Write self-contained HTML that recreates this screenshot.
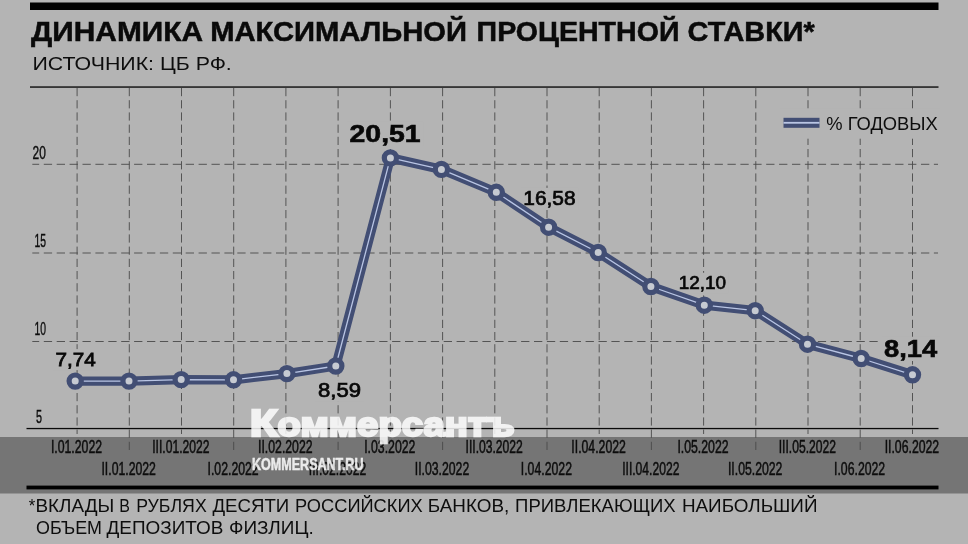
<!DOCTYPE html>
<html lang="ru"><head><meta charset="utf-8"><title>Динамика максимальной процентной ставки</title>
<style>html,body{margin:0;padding:0;background:#b4b4b4;}body{width:968px;height:544px;overflow:hidden;}svg{display:block;will-change:transform;}text{font-family:"Liberation Sans",sans-serif;}</style></head><body>
<svg width="968" height="544" viewBox="0 0 968 544">
<rect x="0" y="0" width="968" height="544" fill="#b4b4b4"/>
<rect x="0" y="437" width="968" height="56.5" fill="#757575"/>
<rect x="30" y="2.5" width="908.5" height="7.5" fill="#000"/>
<text y="41.3" font-size="27.5" font-weight="700" fill="#0a0a0a" stroke="#0a0a0a" stroke-width="0.5"><tspan x="31.1" textLength="171.9" lengthAdjust="spacingAndGlyphs">ДИНАМИКА</tspan> <tspan x="210.2" textLength="256.8" lengthAdjust="spacingAndGlyphs">МАКСИМАЛЬНОЙ</tspan> <tspan x="476.6" textLength="202.9" lengthAdjust="spacingAndGlyphs">ПРОЦЕНТНОЙ</tspan> <tspan x="687.6" textLength="127.1" lengthAdjust="spacingAndGlyphs">СТАВКИ*</tspan></text>
<text x="32.5" y="69.9" font-size="19" fill="#0d0d0d" textLength="199.3" lengthAdjust="spacingAndGlyphs">ИСТОЧНИК: ЦБ РФ.</text>
<rect x="30" y="86.4" width="908.5" height="1.3" fill="#000"/>
<line x1="77.1" y1="88" x2="77.1" y2="434" stroke="#4a4a4a" stroke-width="0.9" stroke-dasharray="8.2 4"/>
<line x1="129.3" y1="88" x2="129.3" y2="453" stroke="#4a4a4a" stroke-width="0.9" stroke-dasharray="8.2 4"/>
<line x1="181.5" y1="88" x2="181.5" y2="434" stroke="#4a4a4a" stroke-width="0.9" stroke-dasharray="8.2 4"/>
<line x1="233.7" y1="88" x2="233.7" y2="453" stroke="#4a4a4a" stroke-width="0.9" stroke-dasharray="8.2 4"/>
<line x1="285.9" y1="88" x2="285.9" y2="434" stroke="#4a4a4a" stroke-width="0.9" stroke-dasharray="8.2 4"/>
<line x1="338.1" y1="88" x2="338.1" y2="453" stroke="#4a4a4a" stroke-width="0.9" stroke-dasharray="8.2 4"/>
<line x1="390.4" y1="88" x2="390.4" y2="434" stroke="#4a4a4a" stroke-width="0.9" stroke-dasharray="8.2 4"/>
<line x1="442.6" y1="88" x2="442.6" y2="453" stroke="#4a4a4a" stroke-width="0.9" stroke-dasharray="8.2 4"/>
<line x1="494.8" y1="88" x2="494.8" y2="434" stroke="#4a4a4a" stroke-width="0.9" stroke-dasharray="8.2 4"/>
<line x1="547.0" y1="88" x2="547.0" y2="453" stroke="#4a4a4a" stroke-width="0.9" stroke-dasharray="8.2 4"/>
<line x1="599.2" y1="88" x2="599.2" y2="434" stroke="#4a4a4a" stroke-width="0.9" stroke-dasharray="8.2 4"/>
<line x1="651.4" y1="88" x2="651.4" y2="453" stroke="#4a4a4a" stroke-width="0.9" stroke-dasharray="8.2 4"/>
<line x1="703.6" y1="88" x2="703.6" y2="434" stroke="#4a4a4a" stroke-width="0.9" stroke-dasharray="8.2 4"/>
<line x1="755.8" y1="88" x2="755.8" y2="453" stroke="#4a4a4a" stroke-width="0.9" stroke-dasharray="8.2 4"/>
<line x1="808.0" y1="88" x2="808.0" y2="434" stroke="#4a4a4a" stroke-width="0.9" stroke-dasharray="8.2 4"/>
<line x1="860.2" y1="88" x2="860.2" y2="453" stroke="#4a4a4a" stroke-width="0.9" stroke-dasharray="8.2 4"/>
<line x1="912.5" y1="88" x2="912.5" y2="434" stroke="#4a4a4a" stroke-width="0.9" stroke-dasharray="8.2 4"/>
<line x1="32.3" y1="164.30" x2="938" y2="164.30" stroke="#4a4a4a" stroke-width="0.9" stroke-dasharray="8.3 4.6" stroke-dashoffset="1.4"/>
<line x1="32.3" y1="253.00" x2="938" y2="253.00" stroke="#4a4a4a" stroke-width="0.9" stroke-dasharray="8.3 4.6" stroke-dashoffset="1.4"/>
<line x1="32.3" y1="341.50" x2="938" y2="341.50" stroke="#4a4a4a" stroke-width="0.9" stroke-dasharray="8.3 4.6" stroke-dashoffset="1.4"/>
<text x="32.5" y="159" font-size="17.8" fill="#0d0d0d" stroke="#0d0d0d" stroke-width="0.4" textLength="13.3" lengthAdjust="spacingAndGlyphs">20</text>
<text x="34.5" y="247.3" font-size="17.8" fill="#0d0d0d" stroke="#0d0d0d" stroke-width="0.4" textLength="11.5" lengthAdjust="spacingAndGlyphs">15</text>
<text x="34.5" y="335" font-size="17.8" fill="#0d0d0d" stroke="#0d0d0d" stroke-width="0.4" textLength="11.5" lengthAdjust="spacingAndGlyphs">10</text>
<text x="36" y="423" font-size="17.8" fill="#0d0d0d" stroke="#0d0d0d" stroke-width="0.4" textLength="6" lengthAdjust="spacingAndGlyphs">5</text>
<rect x="26.5" y="427.9" width="912" height="1.3" fill="#0a0a0a"/>
<rect x="26.5" y="485.6" width="912" height="3.8" fill="#000"/>
<text x="76.5" y="452.8" font-size="17.5" fill="#0d0d0d" stroke="#0d0d0d" stroke-width="0.5" text-anchor="middle" textLength="51.2" lengthAdjust="spacingAndGlyphs">I.01.2022</text>
<text x="128.7" y="475.4" font-size="17.5" fill="#0d0d0d" stroke="#0d0d0d" stroke-width="0.5" text-anchor="middle" textLength="54.5" lengthAdjust="spacingAndGlyphs">II.01.2022</text>
<text x="180.9" y="452.8" font-size="17.5" fill="#0d0d0d" stroke="#0d0d0d" stroke-width="0.5" text-anchor="middle" textLength="57.3" lengthAdjust="spacingAndGlyphs">III.01.2022</text>
<text x="233.1" y="475.4" font-size="17.5" fill="#0d0d0d" stroke="#0d0d0d" stroke-width="0.5" text-anchor="middle" textLength="51.2" lengthAdjust="spacingAndGlyphs">I.02.2022</text>
<text x="285.3" y="452.8" font-size="17.5" fill="#0d0d0d" stroke="#0d0d0d" stroke-width="0.5" text-anchor="middle" textLength="54.5" lengthAdjust="spacingAndGlyphs">II.02.2022</text>
<text x="337.5" y="475.4" font-size="17.5" fill="#0d0d0d" stroke="#0d0d0d" stroke-width="0.5" text-anchor="middle" textLength="57.3" lengthAdjust="spacingAndGlyphs">III.02.2022</text>
<text x="389.8" y="452.8" font-size="17.5" fill="#0d0d0d" stroke="#0d0d0d" stroke-width="0.5" text-anchor="middle" textLength="51.2" lengthAdjust="spacingAndGlyphs">I.03.2022</text>
<text x="442.0" y="475.4" font-size="17.5" fill="#0d0d0d" stroke="#0d0d0d" stroke-width="0.5" text-anchor="middle" textLength="54.5" lengthAdjust="spacingAndGlyphs">II.03.2022</text>
<text x="494.2" y="452.8" font-size="17.5" fill="#0d0d0d" stroke="#0d0d0d" stroke-width="0.5" text-anchor="middle" textLength="57.3" lengthAdjust="spacingAndGlyphs">III.03.2022</text>
<text x="546.4" y="475.4" font-size="17.5" fill="#0d0d0d" stroke="#0d0d0d" stroke-width="0.5" text-anchor="middle" textLength="51.2" lengthAdjust="spacingAndGlyphs">I.04.2022</text>
<text x="598.6" y="452.8" font-size="17.5" fill="#0d0d0d" stroke="#0d0d0d" stroke-width="0.5" text-anchor="middle" textLength="54.5" lengthAdjust="spacingAndGlyphs">II.04.2022</text>
<text x="650.8" y="475.4" font-size="17.5" fill="#0d0d0d" stroke="#0d0d0d" stroke-width="0.5" text-anchor="middle" textLength="57.3" lengthAdjust="spacingAndGlyphs">III.04.2022</text>
<text x="703.0" y="452.8" font-size="17.5" fill="#0d0d0d" stroke="#0d0d0d" stroke-width="0.5" text-anchor="middle" textLength="51.2" lengthAdjust="spacingAndGlyphs">I.05.2022</text>
<text x="755.2" y="475.4" font-size="17.5" fill="#0d0d0d" stroke="#0d0d0d" stroke-width="0.5" text-anchor="middle" textLength="54.5" lengthAdjust="spacingAndGlyphs">II.05.2022</text>
<text x="807.4" y="452.8" font-size="17.5" fill="#0d0d0d" stroke="#0d0d0d" stroke-width="0.5" text-anchor="middle" textLength="57.3" lengthAdjust="spacingAndGlyphs">III.05.2022</text>
<text x="859.6" y="475.4" font-size="17.5" fill="#0d0d0d" stroke="#0d0d0d" stroke-width="0.5" text-anchor="middle" textLength="51.2" lengthAdjust="spacingAndGlyphs">I.06.2022</text>
<text x="911.9" y="452.8" font-size="17.5" fill="#0d0d0d" stroke="#0d0d0d" stroke-width="0.5" text-anchor="middle" textLength="54.5" lengthAdjust="spacingAndGlyphs">II.06.2022</text>
<rect x="780" y="108.7" width="160" height="30" fill="#b4b4b4"/>
<rect x="783.5" y="117.8" width="36" height="10" fill="#424e74"/>
<rect x="783.5" y="121.9" width="36" height="1.8" fill="#b9c5e4"/>
<text x="826.3" y="130" font-size="18" fill="#0d0d0d" textLength="111.5" lengthAdjust="spacingAndGlyphs">% ГОДОВЫХ</text>
<rect x="347.1" y="121.9" width="76.0" height="24.1" fill="#b4b4b4"/>
<text x="349.6" y="141.5" font-size="23.2" font-weight="700" fill="#080808" stroke="#080808" stroke-width="0.6" textLength="71" lengthAdjust="spacingAndGlyphs">20,51</text>
<rect x="881.5" y="336.7" width="58.2" height="24.3" fill="#b4b4b4"/>
<text x="884" y="356.5" font-size="23.5" font-weight="700" fill="#080808" stroke="#080808" stroke-width="0.6" textLength="53.2" lengthAdjust="spacingAndGlyphs">8,14</text>
<rect x="520.8" y="187.9" width="57.3" height="21.5" fill="#b4b4b4"/>
<text x="523.3" y="204.9" font-size="19.6" fill="#080808" stroke="#080808" stroke-width="0.7" textLength="52.3" lengthAdjust="spacingAndGlyphs">16,58</text>
<rect x="676.3" y="272.8" width="52.3" height="20.8" fill="#b4b4b4"/>
<text x="678.8" y="289.1" font-size="18.6" fill="#080808" stroke="#080808" stroke-width="0.7" textLength="47.3" lengthAdjust="spacingAndGlyphs">12,10</text>
<rect x="53.0" y="349.1" width="45.2" height="21.0" fill="#b4b4b4"/>
<text x="55.5" y="365.6" font-size="18.9" fill="#080808" stroke="#080808" stroke-width="0.8" textLength="40.2" lengthAdjust="spacingAndGlyphs">7,74</text>
<rect x="315.5" y="380.3" width="48.0" height="21.3" fill="#b4b4b4"/>
<text x="318" y="397.1" font-size="19.3" fill="#080808" stroke="#080808" stroke-width="0.7" textLength="43" lengthAdjust="spacingAndGlyphs">8,59</text>
<polyline points="75.2,381.1 129.0,381.1 181.2,379.6 233.5,379.8 286.9,373.6 335.8,366.0 390.4,157.9 441.4,169.4 496.3,192.3 548.6,227.2 598.2,252.5 650.9,286.5 704.3,305.2 755.2,310.7 807.5,344.2 861.2,358.5 912.5,374.8" fill="none" stroke="#424e74" stroke-width="9.3" stroke-linejoin="round" stroke-linecap="round"/>
<polyline points="75.2,381.1 129.0,381.1 181.2,379.6 233.5,379.8 286.9,373.6 335.8,366.0 390.4,157.9 441.4,169.4 496.3,192.3 548.6,227.2 598.2,252.5 650.9,286.5 704.3,305.2 755.2,310.7 807.5,344.2 861.2,358.5 912.5,374.8" fill="none" stroke="#b9c5e4" stroke-width="1.3" stroke-linejoin="round"/>
<circle cx="75.2" cy="381.1" r="6.1" fill="#c6cad2" stroke="#424e74" stroke-width="5.2"/>
<circle cx="129.0" cy="381.1" r="6.1" fill="#c6cad2" stroke="#424e74" stroke-width="5.2"/>
<circle cx="181.2" cy="379.6" r="6.1" fill="#c6cad2" stroke="#424e74" stroke-width="5.2"/>
<circle cx="233.5" cy="379.8" r="6.1" fill="#c6cad2" stroke="#424e74" stroke-width="5.2"/>
<circle cx="286.9" cy="373.6" r="6.1" fill="#c6cad2" stroke="#424e74" stroke-width="5.2"/>
<circle cx="335.8" cy="366.0" r="6.1" fill="#c6cad2" stroke="#424e74" stroke-width="5.2"/>
<circle cx="390.4" cy="157.9" r="6.1" fill="#c6cad2" stroke="#424e74" stroke-width="5.2"/>
<circle cx="441.4" cy="169.4" r="6.1" fill="#c6cad2" stroke="#424e74" stroke-width="5.2"/>
<circle cx="496.3" cy="192.3" r="6.1" fill="#c6cad2" stroke="#424e74" stroke-width="5.2"/>
<circle cx="548.6" cy="227.2" r="6.1" fill="#c6cad2" stroke="#424e74" stroke-width="5.2"/>
<circle cx="598.2" cy="252.5" r="6.1" fill="#c6cad2" stroke="#424e74" stroke-width="5.2"/>
<circle cx="650.9" cy="286.5" r="6.1" fill="#c6cad2" stroke="#424e74" stroke-width="5.2"/>
<circle cx="704.3" cy="305.2" r="6.1" fill="#c6cad2" stroke="#424e74" stroke-width="5.2"/>
<circle cx="755.2" cy="310.7" r="6.1" fill="#c6cad2" stroke="#424e74" stroke-width="5.2"/>
<circle cx="807.5" cy="344.2" r="6.1" fill="#c6cad2" stroke="#424e74" stroke-width="5.2"/>
<circle cx="861.2" cy="358.5" r="6.1" fill="#c6cad2" stroke="#424e74" stroke-width="5.2"/>
<circle cx="912.5" cy="374.8" r="6.1" fill="#c6cad2" stroke="#424e74" stroke-width="5.2"/>
<text y="511.8" font-size="17.5" fill="#0d0d0d"><tspan x="28.8" textLength="6.5" lengthAdjust="spacingAndGlyphs">*</tspan><tspan x="35.4" textLength="78.8" lengthAdjust="spacingAndGlyphs">ВКЛАДЫ</tspan> <tspan x="119.3" textLength="10.7" lengthAdjust="spacingAndGlyphs">В</tspan> <tspan x="136.2" textLength="70.5" lengthAdjust="spacingAndGlyphs">РУБЛЯХ</tspan> <tspan x="212.4" textLength="76.8" lengthAdjust="spacingAndGlyphs">ДЕСЯТИ</tspan> <tspan x="295.1" textLength="127.6" lengthAdjust="spacingAndGlyphs">РОССИЙСКИХ</tspan> <tspan x="427.8" textLength="81.5" lengthAdjust="spacingAndGlyphs">БАНКОВ,</tspan> <tspan x="515.1" textLength="160.6" lengthAdjust="spacingAndGlyphs">ПРИВЛЕКАЮЩИХ</tspan> <tspan x="681.9" textLength="135.6" lengthAdjust="spacingAndGlyphs">НАИБОЛЬШИЙ</tspan></text>
<text y="534.3" font-size="17.5" fill="#0d0d0d"><tspan x="36.0" textLength="66.0" lengthAdjust="spacingAndGlyphs">ОБЪЕМ</tspan> <tspan x="106.5" textLength="116.8" lengthAdjust="spacingAndGlyphs">ДЕПОЗИТОВ</tspan> <tspan x="229.0" textLength="84.7" lengthAdjust="spacingAndGlyphs">ФИЗЛИЦ.</tspan></text>
<g opacity="0.84"><text y="436" font-weight="700" fill="#fff" stroke="#fff" stroke-width="2.3" stroke-linejoin="miter"><tspan x="249.8" font-size="36.8" textLength="28" lengthAdjust="spacingAndGlyphs">К</tspan><tspan x="277.6" font-size="33.5" textLength="237" lengthAdjust="spacingAndGlyphs">оммерсантъ</tspan></text></g>
<g opacity="0.86"><text x="252" y="470.4" font-size="15.7" font-weight="700" fill="#fff" stroke="#fff" stroke-width="0.5" textLength="111.5" lengthAdjust="spacingAndGlyphs">KOMMERSANT.RU</text></g>
</svg></body></html>
